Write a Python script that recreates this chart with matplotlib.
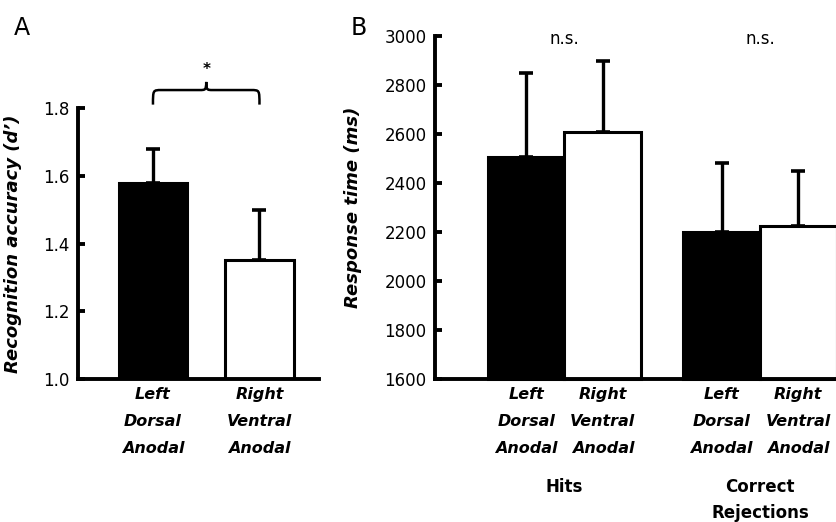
import matplotlib
matplotlib.use("Agg")
import matplotlib.pyplot as plt
import numpy as np
from matplotlib.path import Path
from matplotlib.patches import PathPatch
from matplotlib.transforms import blended_transform_factory

# ---------------- data ----------------
acc_labels = ["Left\nDorsal\nAnodal", "Right\nVentral\nAnodal"]
acc_means = [1.58, 1.35]
acc_err = [0.10, 0.15]

rt_labels = ["Left\nDorsal\nAnodal", "Right\nVentral\nAnodal",
             "Left\nDorsal\nAnodal", "Right\nVentral\nAnodal"]
rt_means = [2505, 2610, 2200, 2225]
rt_err = [345, 290, 280, 225]
rt_groups = ["Hits", "Correct\nRejections"]
rt_sig = ["n.s.", "n.s."]
acc_sig = "*"

bar_colors = ["black", "white"]

plt.rcParams['font.family'] = ['DejaVu Sans']

fig = plt.figure(figsize=(8.37, 5.22), dpi=100)

LW = 2.8

def style_axes(ax):
    for s in ["top", "right"]:
        ax.spines[s].set_visible(False)
    for s in ["left", "bottom"]:
        ax.spines[s].set_linewidth(LW)
    ax.tick_params(axis="y", direction="in", length=5, width=LW, labelsize=12, pad=6)
    ax.tick_params(axis="x", length=0, pad=6)

# ---------------- Panel A ----------------
axA = fig.add_axes([78/837, 1-379/522, 241/837, 271/522])
xA = [1, 2]
yA0 = 1.0
axA.errorbar(xA, acc_means, yerr=[[0, 0], acc_err], fmt="none", ecolor="black",
             elinewidth=2.4, capsize=5, capthick=2.6, zorder=1)
axA.bar(xA, np.array(acc_means) - yA0, width=0.64, bottom=yA0, color=bar_colors,
        edgecolor="black", linewidth=2.2, zorder=2)
axA.set_ylim(1.0, 1.8)
axA.set_xlim(0.296, 2.559)
axA.set_yticks([1.0, 1.2, 1.4, 1.6, 1.8])
axA.set_yticklabels(["1.0", "1.2", "1.4", "1.6", "1.8"])
axA.set_xticks(xA)
axA.set_xticklabels(acc_labels, fontsize=11.5, fontweight="bold", fontstyle="italic")
for lbl in axA.get_xticklabels():
    lbl.set_linespacing(2.0)
style_axes(axA)
axA.set_ylabel("Recognition accuracy (d’)", fontsize=13, fontweight="bold",
               fontstyle="italic")
axA.yaxis.set_label_coords(-0.232, 0.5)

# curly brace
x0, x1 = xA[0], xA[1]
xm = (x0 + x1) / 2
y0, yh, yt = 1.81, 1.853, 1.877
verts = [(x0, y0), (x0, yh), (x0, yh), (x0 + 0.08, yh),
         (xm - 0.06, yh),
         (xm - 0.01, yh), (xm, yh), (xm, yt),
         (xm, yh), (xm + 0.01, yh), (xm + 0.06, yh),
         (x1 - 0.08, yh),
         (x1, yh), (x1, yh), (x1, y0)]
codes = [Path.MOVETO, Path.CURVE4, Path.CURVE4, Path.CURVE4,
         Path.LINETO,
         Path.CURVE4, Path.CURVE4, Path.CURVE4,
         Path.CURVE4, Path.CURVE4, Path.CURVE4,
         Path.LINETO,
         Path.CURVE4, Path.CURVE4, Path.CURVE4]
axA.add_patch(PathPatch(Path(verts, codes), facecolor="none", edgecolor="black",
                        linewidth=1.8, clip_on=False))
axA.text(xm, 1.915, acc_sig, ha="center", va="center", fontsize=11, fontweight="bold")

fig.text(22/837, 1-28/522, "A", fontsize=17, ha="center", va="center")

# ---------------- Panel B ----------------
axB = fig.add_axes([435/837, 1-379/522, 402/837, 343/522])
group_centers = [0, 2.5]
xB = []
for g in group_centers:
    xB += [g - 0.49, g + 0.49]
yB0 = 1600
axB.errorbar(xB, rt_means, yerr=[[0]*4, rt_err], fmt="none", ecolor="black",
             elinewidth=2.4, capsize=5, capthick=2.6, zorder=1)
axB.bar(xB, np.array(rt_means) - yB0, bottom=yB0, width=0.98, color=bar_colors*2,
        edgecolor="black", linewidth=2.2, zorder=2, clip_on=False)
axB.set_ylim(1600, 3000)
axB.set_xlim(-1.656, 3.485)
axB.set_yticks([1600, 1800, 2000, 2200, 2400, 2600, 2800, 3000])
axB.set_xticks(xB)
axB.set_xticklabels(rt_labels, fontsize=11.5, fontweight="bold", fontstyle="italic")
for lbl in axB.get_xticklabels():
    lbl.set_linespacing(2.0)
style_axes(axB)
axB.set_ylabel("Response time (ms)", fontsize=13, fontweight="bold",
               fontstyle="italic")
axB.yaxis.set_label_coords(-0.182, 0.5)

trB = blended_transform_factory(axB.transData, fig.transFigure)
for g, name in zip(group_centers, rt_groups):
    axB.text(g, 1-478/522, name, transform=trB, ha="center", va="top",
             fontsize=12, fontweight="bold", linespacing=1.6)
trB2 = blended_transform_factory(axB.transData, axB.transAxes)
for g, s in zip(group_centers, rt_sig):
    axB.text(g, 0.99, s, transform=trB2, ha="center", va="center", fontsize=12)

fig.text(359/837, 1-28/522, "B", fontsize=17, ha="center", va="center")

fig.savefig("out.png", dpi=100)
